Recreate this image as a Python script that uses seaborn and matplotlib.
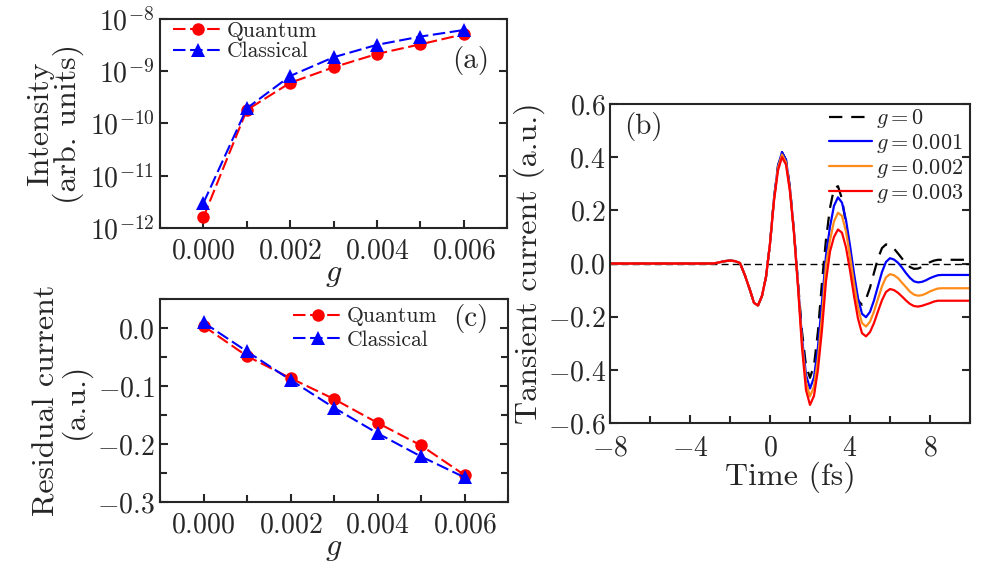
import matplotlib
matplotlib.use("Agg")
import matplotlib.pyplot as plt
import matplotlib.ticker as mticker
import numpy as np
import pandas as pd
import seaborn as sns

# ---------------- data ----------------
g_vals = [0.000, 0.001, 0.002, 0.003, 0.004, 0.005, 0.006]
intensity_quantum = [1.6e-12, 1.81e-10, 6.0e-10, 1.19e-9, 2.14e-9, 3.27e-9, 5.1e-9]
intensity_classical = [3.0e-12, 1.95e-10, 8.1e-10, 1.85e-9, 3.2e-9, 4.6e-9, 6.15e-9]
residual_quantum = [0.004, -0.048, -0.086, -0.122, -0.163, -0.202, -0.253]
residual_classical = [0.010, -0.040, -0.089, -0.137, -0.181, -0.221, -0.257]

time_fs = [-8, -4, -3, -2.75, -2.5, -2.25, -2.0, -1.75, -1.5, -1.25, -1.0,
           -0.8, -0.6, -0.4, -0.2, 0.0, 0.2, 0.4, 0.6, 0.8, 1.0, 1.2,
           1.4, 1.6, 1.8, 2.0, 2.2, 2.4, 2.6, 2.8, 3.0, 3.2,
           3.4, 3.6, 3.8, 4.0, 4.2, 4.4, 4.6, 4.8, 5.0, 5.2,
           5.4, 5.6, 5.8, 6.0, 6.2, 6.4, 6.6, 6.8, 7.0, 7.2,
           7.4, 7.6, 7.8, 8.0, 8.2, 8.4, 8.6, 9.0, 9.5, 10.0]

current_g0 = [0, 0, 0, 0.001, 0.005, 0.009, 0.011, 0.009, 0.002, -0.045, -0.100,
              -0.148, -0.158, -0.122, -0.051, 0.074, 0.244, 0.367, 0.419, 0.390, 0.283, 0.120,
              -0.070, -0.255, -0.384, -0.430, -0.384, -0.254, -0.070, 0.090, 0.209, 0.281,
              0.291, 0.243, 0.149, 0.035, -0.070, -0.139, -0.155, -0.134, -0.091, -0.035,
              0.019, 0.058, 0.072, 0.068, 0.056, 0.038, 0.019, 0.000, -0.013, -0.020,
              -0.019, -0.013, -0.004, 0.005, 0.011, 0.014, 0.014, 0.014, 0.014, 0.014]
current_g1 = [0, 0, 0, 0.001, 0.005, 0.009, 0.011, 0.009, 0.002, -0.045, -0.100,
              -0.148, -0.158, -0.122, -0.051, 0.074, 0.244, 0.367, 0.419, 0.390, 0.283, 0.120,
              -0.077, -0.278, -0.419, -0.470, -0.429, -0.314, -0.145, 0.029, 0.138, 0.217,
              0.249, 0.229, 0.164, 0.068, -0.037, -0.130, -0.189, -0.202, -0.182, -0.139,
              -0.085, -0.032, 0.006, 0.020, 0.015, 0.003, -0.015, -0.036, -0.054, -0.067,
              -0.071, -0.069, -0.063, -0.055, -0.049, -0.044, -0.043, -0.043, -0.043, -0.043]
current_g2 = [0, 0, 0, 0.001, 0.005, 0.009, 0.011, 0.009, 0.002, -0.045, -0.100,
              -0.148, -0.158, -0.122, -0.051, 0.074, 0.240, 0.360, 0.410, 0.381, 0.276, 0.117,
              -0.082, -0.296, -0.446, -0.500, -0.463, -0.357, -0.198, -0.005, 0.087, 0.158,
              0.191, 0.179, 0.121, 0.029, -0.074, -0.166, -0.224, -0.237, -0.219, -0.181,
              -0.133, -0.086, -0.052, -0.040, -0.044, -0.055, -0.072, -0.089, -0.106, -0.117,
              -0.121, -0.119, -0.113, -0.105, -0.099, -0.094, -0.093, -0.093, -0.093, -0.093]
current_g3 = [0, 0, 0, 0.001, 0.005, 0.009, 0.011, 0.009, 0.002, -0.045, -0.100,
              -0.148, -0.158, -0.122, -0.051, 0.074, 0.235, 0.350, 0.400, 0.372, 0.270, 0.115,
              -0.087, -0.315, -0.475, -0.532, -0.498, -0.399, -0.249, -0.067, 0.045, 0.100,
              0.128, 0.116, 0.061, -0.025, -0.121, -0.207, -0.262, -0.274, -0.258, -0.224,
              -0.180, -0.138, -0.107, -0.096, -0.100, -0.110, -0.124, -0.139, -0.152, -0.160,
              -0.162, -0.159, -0.154, -0.149, -0.143, -0.140, -0.140, -0.140, -0.140, -0.140]

curve_labels = [r"$g=0$", r"$g=0.001$", r"$g=0.002$", r"$g=0.003$"]

# ---------------- style ----------------
sns.set_style("ticks")
plt.rcParams.update({
    "font.family": ["cmr10", "DejaVu Serif"],
    "mathtext.fontset": "cm",
    "axes.formatter.use_mathtext": True,
    "axes.unicode_minus": True,
    "xtick.direction": "in",
    "ytick.direction": "in",
    "axes.linewidth": 1.5,
    "xtick.major.width": 1.5,
    "ytick.major.width": 1.5,
    "xtick.minor.width": 1.5,
    "ytick.minor.width": 1.5,
    "xtick.major.size": 6,
    "ytick.major.size": 6,
    "xtick.minor.size": 5,
    "ytick.minor.size": 5,
    "xtick.labelsize": 20,
    "ytick.labelsize": 20,
    "xtick.major.pad": 7,
    "ytick.major.pad": 4,
    "axes.labelsize": 23,
})

fig = plt.figure(figsize=(9.92, 5.65), dpi=100)
ax_a = fig.add_axes([0.1613, 0.5965, 0.3498, 0.3699])
ax_c = fig.add_axes([0.1613, 0.111, 0.3508, 0.3593])
ax_b = fig.add_axes([0.6149, 0.2513, 0.3629, 0.5646])

dash_ab = (0, (6, 2.2))
leg_kw = dict(frameon=False, handletextpad=0.2, borderpad=0.2, borderaxespad=0)

# ---------------- panel (a) ----------------
sns.lineplot(x=g_vals, y=intensity_quantum, ax=ax_a, color="red", marker="o",
             markersize=9, markeredgewidth=0, linestyle=dash_ab, linewidth=1.5,
             label="Quantum")
sns.lineplot(x=g_vals, y=intensity_classical, ax=ax_a, color="blue", marker="^",
             markersize=10, markeredgewidth=0, linestyle=dash_ab, linewidth=1.5,
             label="Classical")
ax_a.set_yscale("log")
ax_a.set_ylim(1e-12, 1e-8)
ax_a.set_xlim(-0.001, 0.007)
ax_a.xaxis.set_major_locator(mticker.MultipleLocator(0.002))
ax_a.xaxis.set_minor_locator(mticker.MultipleLocator(0.001))
ax_a.yaxis.set_major_locator(mticker.LogLocator(base=10, numticks=10))
ax_a.yaxis.set_minor_locator(mticker.NullLocator())
ax_a.tick_params(which="both", left=True, right=True, top=False, bottom=True)
ax_a.set_xlabel(r"$g$", labelpad=-2)
ax_a.set_ylabel("Intensity\n(arb. units)", labelpad=4, linespacing=0.95)
ax_a.legend(loc="upper left", bbox_to_anchor=(0.025, 1.01), fontsize=15.5,
            handlelength=2.3, labelspacing=0.05, **leg_kw)
ax_a.text(0.95, 0.80, "(a)", transform=ax_a.transAxes, ha="right", va="center",
          fontsize=21)

# ---------------- panel (c) ----------------
sns.lineplot(x=g_vals, y=residual_quantum, ax=ax_c, color="red", marker="o",
             markersize=9, markeredgewidth=0, linestyle=dash_ab, linewidth=1.5,
             label="Quantum")
sns.lineplot(x=g_vals, y=residual_classical, ax=ax_c, color="blue", marker="^",
             markersize=10, markeredgewidth=0, linestyle=dash_ab, linewidth=1.5,
             label="Classical")
ax_c.set_xlim(-0.001, 0.007)
ax_c.set_ylim(-0.3, 0.05)
ax_c.xaxis.set_major_locator(mticker.MultipleLocator(0.002))
ax_c.xaxis.set_minor_locator(mticker.MultipleLocator(0.001))
ax_c.yaxis.set_major_locator(mticker.MultipleLocator(0.1))
ax_c.yaxis.set_minor_locator(mticker.MultipleLocator(0.05))
ax_c.yaxis.set_major_formatter(mticker.FormatStrFormatter(r"$%.1f$"))
ax_c.tick_params(which="both", left=True, right=True, top=False, bottom=True)
ax_c.set_xlabel(r"$g$", labelpad=-2)
ax_c.set_ylabel("Residual current\n(a.u.)", labelpad=4, linespacing=0.95)
ax_c.legend(loc="upper left", bbox_to_anchor=(0.37, 0.985), fontsize=15.5,
            handlelength=2.3, labelspacing=0.2, **leg_kw)
ax_c.text(0.945, 0.905, "(c)", transform=ax_c.transAxes, ha="right", va="center",
          fontsize=21)

# ---------------- panel (b) ----------------
ax_b.axhline(0, color="black", linewidth=1.0, linestyle=(0, (5, 3)), zorder=1)
curve_colors = ["black", "blue", "#ff8c1a", "red"]
curve_data = [current_g0, current_g1, current_g2, current_g3]
for ys, col, lab in zip(curve_data, curve_colors, curve_labels):
    ls = (0, (6, 4)) if col == "black" else "-"
    sns.lineplot(x=time_fs, y=ys, ax=ax_b, color=col, linewidth=1.6,
                 linestyle=ls, label=lab, sort=False)
ax_b.set_xlim(-8, 10)
ax_b.set_ylim(-0.6, 0.6)
ax_b.xaxis.set_major_locator(mticker.MultipleLocator(4))
ax_b.xaxis.set_minor_locator(mticker.MultipleLocator(2))
ax_b.yaxis.set_major_locator(mticker.MultipleLocator(0.2))
ax_b.yaxis.set_minor_locator(mticker.NullLocator())
ax_b.yaxis.set_major_formatter(mticker.FormatStrFormatter(r"$%.1f$"))
ax_b.xaxis.set_major_formatter(mticker.FormatStrFormatter(r"$%d$"))
ax_b.tick_params(which="both", left=True, right=True, top=False, bottom=True)
ax_b.tick_params(axis="x", which="major", pad=9)
ax_b.tick_params(axis="y", which="major", pad=3)
ax_b.set_xlabel("Time (fs)", labelpad=0)
ax_b.set_ylabel("Tansient current (a.u.)", labelpad=2)
ax_b.legend(loc="upper left", bbox_to_anchor=(0.6, 1.0), fontsize=16,
            handlelength=1.9, labelspacing=0.08, frameon=False,
            handletextpad=0.2, borderpad=0.15, borderaxespad=0)
ax_b.text(0.039, 0.929, "(b)", transform=ax_b.transAxes, ha="left", va="center",
          fontsize=21)

fig.savefig("out.png", dpi=100)
